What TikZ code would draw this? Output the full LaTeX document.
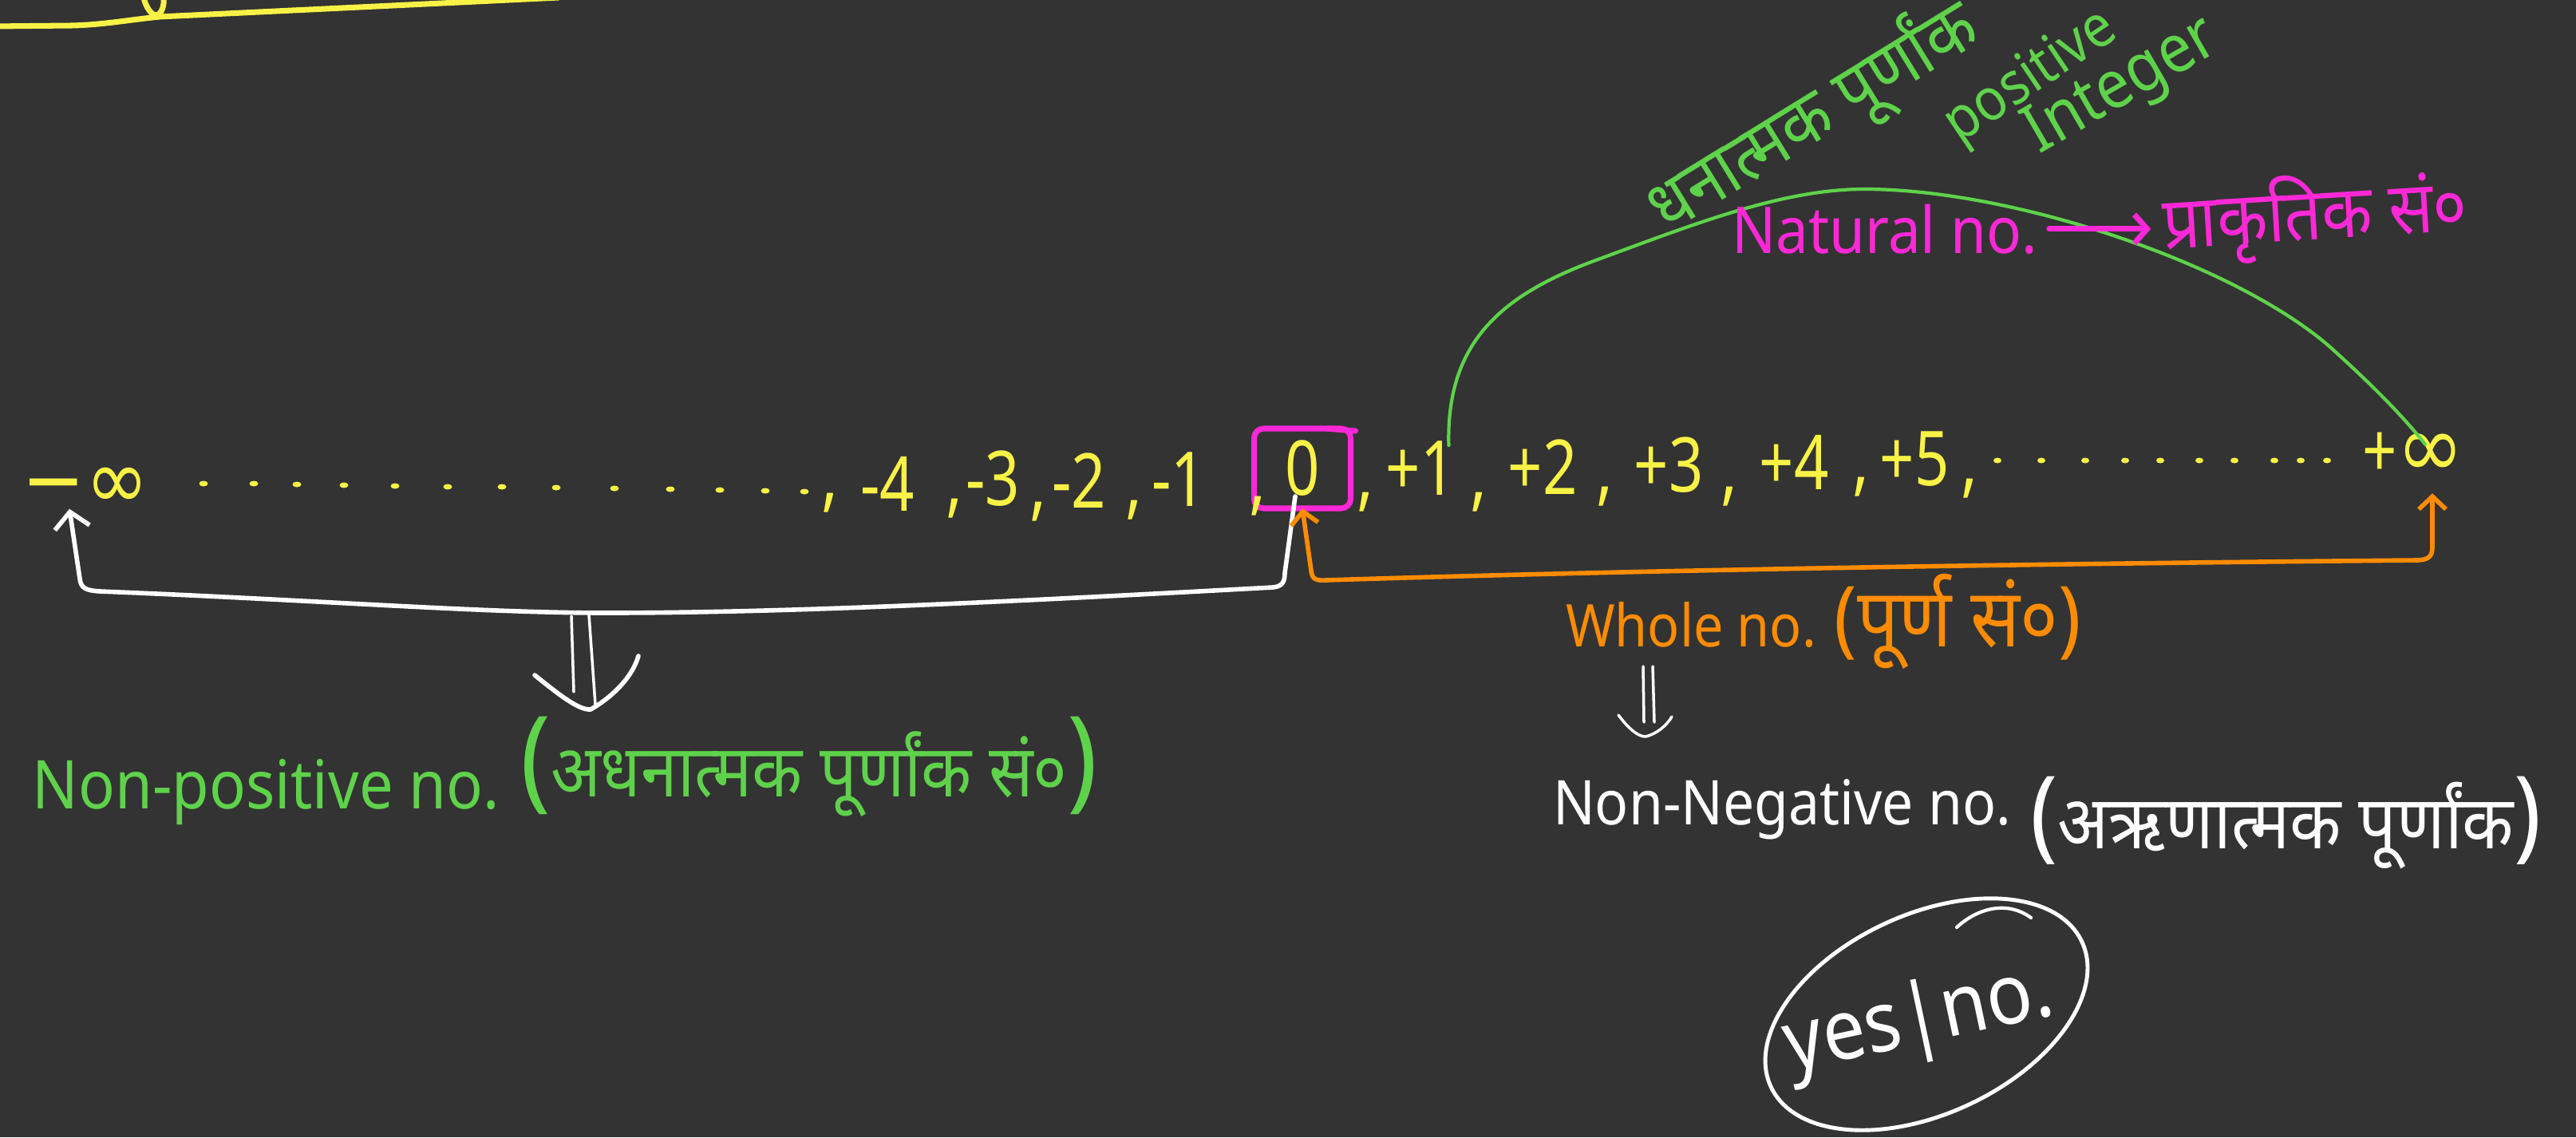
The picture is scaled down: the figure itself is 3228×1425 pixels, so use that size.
\documentclass[tikz,border=0pt]{standalone}
\usepackage{fontspec}
\setmainfont{Noto Sans}[Script=Devanagari,FakeStretch=0.9]
\newfontfamily\numf{Noto Sans}[FakeStretch=0.8]
\newfontfamily\symf{DejaVu Sans}[FakeStretch=0.9]
\usetikzlibrary{arrows.meta,shapes.geometric}
\newcommand\fsz[1]{\fontsize{#1}{#1}\selectfont}
\definecolor{bg}{HTML}{333333}
\definecolor{hyellow}{HTML}{F8F246}
\definecolor{hgreen}{HTML}{5FD24B}
\definecolor{hpink}{HTML}{FF28D7}
\definecolor{horange}{HTML}{FF8C00}
\begin{document}
\begin{tikzpicture}[x=0.1mm,y=-0.1mm,
  every node/.style={inner sep=0pt,outer sep=0pt},
  num/.style={text=hyellow,font=\numf\fsz{27}},
  infy/.style={text=hyellow,font=\symf\fsz{30}},
  commanode/.style={text=hyellow,font=\numf\fsz{28}},
  wline/.style={draw=white,line width=1.6pt,line cap=round,line join=round},
  thinw/.style={draw=white,line width=1pt,line cap=round,line join=round},
  oline/.style={draw=horange,line width=1.6pt,line cap=round,line join=round},
  gline/.style={draw=hgreen,line width=1.2pt,line cap=round},
  pline/.style={draw=hpink,line width=2pt,line cap=round},
  zerobox/.style={draw=hpink,line width=2pt,rounded corners=1.2mm,minimum width=12.1mm,minimum height=10mm,text=hyellow,font=\numf\fsz{27}}]
\useasboundingbox (0,0) rectangle (3228,1425);
\fill[bg] (0,0) rectangle (3228,1425);

% top-left underline fragment
\draw[hyellow,line width=2pt,line cap=round] (-10,33) -- (90,32) .. controls (130,31) and (160,25) .. (200,21) -- (700,-3);
\draw[hyellow,line width=2pt,line cap=round] (180,-3) .. controls (183,10) and (190,19) .. (196,19) .. controls (203,17) and (206,7) .. (205,-3);

% number line
\node[infy] (ninf) at (107,612) {−∞};
\foreach \x/\y in {255/606,318/606,372/607,431/608,495/609,561/610,629/610,697/611,770/612,840/613,902/614,959/615,1008/616}
  \fill[hyellow] (\x,\y) ellipse[x radius=0.55mm,y radius=0.35mm];
\node[num] (m4) at (1112,606) {-4};
\node[num] (m3) at (1244,600) {-3};
\node[num] (m2) at (1352,602) {-2};
\node[num] (m1) at (1477,601) {-1};
\node[zerobox] (zero) at (1632,587) {0};
\draw[pline] ([xshift=-3mm]zero.north east) -- ([xshift=0.6mm,yshift=-0.3mm]zero.north east);
\node[num] (p1) at (1780,587) {+1};
\node[num] (p2) at (1933,585) {+2};
\node[num] (p3) at (2091,583) {+3};
\node[num] (p4) at (2248,579) {+4};
\node[num] (p5) at (2399,575) {+5};
\foreach \x in {2503,2558,2613,2663,2707,2756,2800,2850,2883,2916}
  \fill[hyellow] (\x,577) ellipse[x radius=0.5mm,y radius=0.35mm];
\node[text=hyellow] (pinf) at (3024,570) {{\numf\fsz{27}+}{\symf\fsz{32}∞}};
\foreach \x/\y [count=\i] in {1040/630,1196/637,1301/641,1421/639,1576/634,1711/629,1853/629,2011/622,2167/622,2332/610,2468/612}
  \node[commanode] (c\i) at (\x,\y) {,};

% green arc: +1 to +infinity
\coordinate (g1) at ([xshift=-0.8mm,yshift=-0.5mm]p1.north east);
\coordinate (g2) at ([xshift=1.5mm,yshift=-1.5mm]pinf.north);
\draw[gline] (g1) .. controls (1812,430) and (1880,370) .. (2000,326) .. controls (2120,282) and (2230,238) .. (2333,237) .. controls (2520,236) and (2800,330) .. (2920,435) .. controls (2970,480) and (3010,520) .. (g2);

% green labels
\node[text=hgreen,font=\fsz{26},rotate=31.6] (dhan) at (2272,148) {धनात्मक पूर्णांक};
\node[text=hgreen,font=\fsz{21},rotate=34] (posit) at (2546,98) {positive};
\node[text=hgreen,font=\fsz{24},rotate=30] (integ) at (2660,110) {Integer};

% pink label
\node[anchor=base west,text=hpink,font=\fsz{23}] (nat) at (2170,317) {Natural no.};
\node[anchor=base west,text=hpink,font=\fsz{26},rotate=3.5] (prak) at (2712,312) {प्राकृतिक सं०};
\draw[pline,-{Straight Barb[length=1.6mm,width=3.6mm]}] ([xshift=1.5mm]nat.east) -- ([xshift=-1.5mm]nat.east -| prak.west);

% white bracket: -infinity to 0
\coordinate (wA) at ([xshift=-2mm]ninf.south);
\coordinate (wB) at ([xshift=-0.9mm,yshift=1.5mm]zero.south);
\draw[wline,{Straight Barb[length=2mm,width=4.4mm]}-] (wA) -- (100,725) .. controls (101,737) and (108,740) .. (125,741) .. controls (400,752) and (600,768) .. (760,768) .. controls (1000,768) and (1300,752) .. (1595,736) .. controls (1606,735) and (1610,730) .. (1610,718) -- (wB);

% double arrow left
\draw[thinw] (716,772) -- (719,867);
\draw[thinw] (738,770) -- (746,883);
\draw[wline] (670,846) .. controls (700,870) and (725,890) .. (740,889) .. controls (765,875) and (792,850) .. (800,822);

% orange bracket: 0 to +infinity
\coordinate (oA) at (zero.south);
\coordinate (oB) at ([xshift=2.4mm,yshift=-2mm]pinf.south);
\draw[oline,{Straight Barb[length=1.6mm,width=3.4mm]}-{Straight Barb[length=1.6mm,width=3.4mm]}] (oA) -- (1643,715) .. controls (1644,725) and (1648,728) .. (1662,727) .. controls (2100,713) and (2600,706) .. (3030,702) .. controls (3044,701) and (3048,697) .. (3048,685) -- (oB);

% labels below
\node[anchor=base west,text=hgreen,font=\fsz{24}] (npos) at (41,1013) {Non-positive no. \raisebox{1.5mm}{{\fsz{40}(}{\fsz{26}अधनात्मक पूर्णांक सं०}{\fsz{40})}}};
\node[anchor=base west,text=horange,font=\fsz{21}] (whole) at (1962,810) {Whole no. {\fsz{30}(}{\fsz{29}पूर्ण सं०}{\fsz{30})}};
\draw[thinw] (2059,835) -- (2060,905);
\draw[thinw] (2071,835) -- (2073,905);
\draw[thinw] (2028,896) .. controls (2040,912) and (2052,923) .. (2062,923) .. controls (2075,920) and (2088,910) .. (2095,898);
\node[anchor=base west,text=white,font=\fsz{22}] (nneg) at (1946,1033) {Non-Negative no. \raisebox{-3mm}{{\fsz{36}(}{\fsz{26.5}अऋणात्मक पूर्णांक}{\fsz{36})}}};

% yes/no oval
\node[draw=white,line width=1.4pt,ellipse,rotate=25,minimum width=43mm,minimum height=25mm] (oval) at (2414,1271) {};
\node[text=white,font=\fsz{30},rotate=12] (yesno) at (2405,1280) {yes|no.};
\draw[white,line width=1.2pt,line cap=round] (2452,1162) .. controls (2478,1138) and (2515,1128) .. (2545,1150);
\end{tikzpicture}
\end{document}
